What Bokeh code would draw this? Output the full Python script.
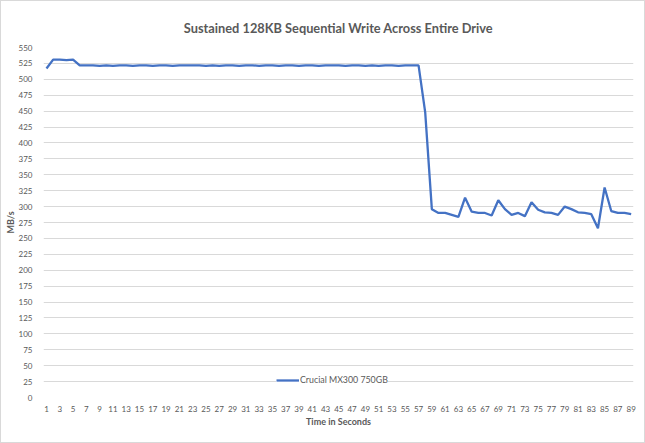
from bokeh.plotting import figure
from bokeh.models import Range1d, FixedTicker, Legend, LegendItem
from bokeh.embed import file_html
from bokeh.resources import INLINE

seconds = list(range(1, 90))
write_mbps = [
    517, 531, 531, 530, 531, 522, 522, 522, 521, 522,
    521, 522, 522, 521, 522, 522, 521, 522, 522, 521,
    522, 522, 522, 522, 521, 522, 521, 522, 522, 521,
    522, 522, 521, 522, 522, 521, 522, 522, 521, 522,
    522, 521, 522, 522, 522, 521, 522, 522, 521, 522,
    521, 522, 522, 521, 522, 522, 522, 448, 296, 290,
    290, 287, 284, 314, 292, 290, 290, 286, 310, 296,
    287, 290, 285, 307, 295, 291, 290, 287, 300, 296,
    291, 290, 288, 266, 330, 293, 290, 290, 288,
]
x_ticks = list(range(1, 90, 2))
y_ticks = list(range(0, 551, 25))
series_name = "Crucial MX300 750GB"
title_text = "Sustained 128KB Sequential Write Across Entire Drive"

FONT = "Lato"
GREY = "#595959"

p = figure(width=645, height=443, output_backend="svg", toolbar_location=None,
           x_range=Range1d(0.55, 89.35), y_range=Range1d(0, 550),
           min_border_left=42, min_border_right=13, min_border_top=46,
           min_border_bottom=47)
p.styles = {"border": "1px solid #d9d9d9", "box-sizing": "border-box"}

p.title.text = title_text
p.title.align = "center"
p.title.text_font = FONT
p.title.text_font_size = "12.8px"
p.title.text_font_style = "bold"
p.title.text_color = GREY
p.title.offset = -15
p.title.standoff = 24

p.outline_line_color = None
p.background_fill_color = "white"
p.border_fill_color = "white"

p.xaxis.ticker = FixedTicker(ticks=x_ticks)
p.yaxis.ticker = FixedTicker(ticks=y_ticks)
for ax in (p.xaxis[0], p.yaxis[0]):
    ax.axis_line_color = None
    ax.major_tick_line_color = None
    ax.minor_tick_line_color = None
    ax.major_label_text_font = FONT
    ax.major_label_text_font_size = "8px"
    ax.major_label_text_color = GREY
    ax.axis_label_text_font = FONT
    ax.axis_label_text_font_size = "9px"
    ax.axis_label_text_font_style = "bold"
    ax.axis_label_text_color = GREY
p.xaxis.axis_label = "Time in Seconds"
p.yaxis.axis_label = "MB/s"
p.xaxis.major_label_standoff = 2
p.yaxis.major_label_standoff = 5
p.xaxis.axis_label_standoff = 1
p.yaxis.axis_label_standoff = 0

p.xgrid.grid_line_color = None
p.ygrid.grid_line_color = "#d9d9d9"
p.ygrid.grid_line_width = 1

r = p.line(seconds, write_mbps, line_color="#4472C4", line_width=2.3)

legend = Legend(items=[LegendItem(label=series_name, renderers=[r])],
                location=(233, 12), orientation="horizontal",
                label_text_font=FONT, label_text_font_size="8.8px",
                label_text_color=GREY, glyph_width=23, glyph_height=10,
                label_standoff=1, padding=2, spacing=0, margin=0,
                border_line_color=None, background_fill_color="white",
                background_fill_alpha=1)
p.add_layout(legend)

open("out.html", "w").write(file_html(p, INLINE))
